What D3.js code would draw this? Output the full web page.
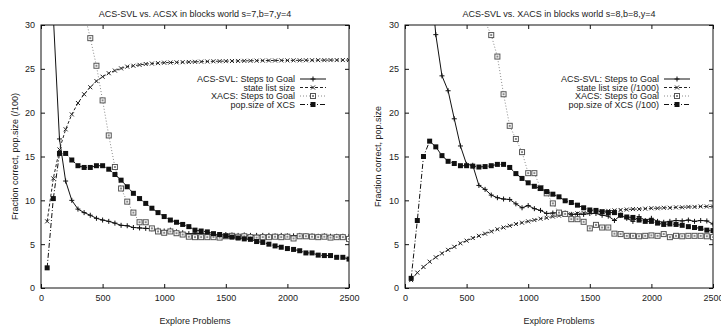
<!DOCTYPE html>
<html>
<head>
<meta charset="utf-8">
<script src="https://cdn.jsdelivr.net/npm/d3@7"></script>
<style>
  body { margin: 0; background: #fff; }
  svg text { font-family: "Liberation Sans", Arial, Helvetica, sans-serif; fill: #222; }
</style>
</head>
<body>
<div id="chart"></div>
<script>
// explore problems (x) shared by every series
var explore = [50, 100, 150, 200, 250, 300, 350, 400, 450, 500,
  550, 600, 650, 700, 750, 800, 850, 900, 950, 1000,
  1050, 1100, 1150, 1200, 1250, 1300, 1350, 1400, 1450, 1500,
  1550, 1600, 1650, 1700, 1750, 1800, 1850, 1900, 1950, 2000,
  2050, 2100, 2150, 2200, 2250, 2300, 2350, 2400, 2450, 2500];

var xTicks = [0, 500, 1000, 1500, 2000, 2500];
var yTicks = [0, 5, 10, 15, 20, 25, 30];

// left chart: s=7,b=7,y=4
var leftSteps = [null, 31.0, 17.0, 12.2, 10.0, 9.0, 8.6, 8.3, 7.95, 7.75,
  7.6, 7.4, 7.15, 7.1, 6.9, 6.85, 6.8, 6.75, 6.6, 6.5,
  6.6, 6.4, 6.3, 6.2, 6.25, 6.2, 6.15, 6.1, 6.05, 6.1,
  6.05, 6.0, 6.05, 6.0, 6.0, 6.0, 6.0, 5.95, 6.0, 5.95,
  5.95, 6.0, 5.95, 5.95, 5.9, 5.95, 5.9, 5.9, 5.9, 5.85];
var leftState = [7.6, 12.5, 15.8, 18.1, 19.8, 21.1, 22.1, 22.9, 23.6, 24.1,
  24.5, 24.8, 25.05, 25.25, 25.35, 25.45, 25.55, 25.6, 25.65, 25.7,
  25.72, 25.74, 25.76, 25.78, 25.8, 25.82, 25.84, 25.86, 25.87, 25.88,
  25.89, 25.9, 25.91, 25.92, 25.93, 25.94, 25.95, 25.95, 25.96, 25.96,
  25.97, 25.97, 25.98, 25.98, 25.99, 25.99, 26.0, 26.0, 26.0, 26.0];
var leftXacs = [null, null, null, null, null, null, 31.5, 28.5, 25.35, 21.4,
  17.4, 13.8, 11.35, 9.85, 8.6, 7.5, 7.5, 6.8, 6.45, 6.3,
  6.45, 6.25, 6.1, 5.85, 5.8, 5.8, 5.8, 5.8, 5.75, 5.9,
  5.95, 5.85, 5.9, 5.8, 5.75, 5.8, 5.8, 5.85, 5.8, 5.85,
  5.65, 5.9, 5.9, 5.85, 5.8, 5.85, 5.75, 5.8, 5.8, 5.6];
var leftPop = [2.3, 10.2, 15.35, 15.35, 14.6, 13.95, 13.75, 13.75, 13.95, 13.95,
  13.55, 12.95, 12.3, 11.55, 10.8, 10.2, 9.65, 9.1, 8.6, 8.15,
  7.75, 7.5, 7.25, 7.0, 6.6, 6.5, 6.4, 6.2, 6.1, 5.95,
  5.8, 5.7, 5.6, 5.55, 5.3, 5.2, 5.0, 4.8, 4.65, 4.5,
  4.4, 4.25, 4.0, 4.0, 3.75, 3.7, 3.7, 3.5, 3.5, 3.3];

// right chart: s=8,b=8,y=4
var rightSteps = [null, null, null, 36.8, 28.9, 24.2, 22.5, 19.3, 16.2, 14.1,
  14.0, 11.7, 11.25, 10.6, 10.3, 10.15, 10.1, 9.6, 9.15, 9.4,
  9.05, 8.85, 8.5, 8.55, 8.6, 8.55, 8.4, 8.4, 8.4, 8.5,
  8.5, 8.3, 8.2, 7.7, 8.3, 7.95, 7.6, 8.15, 7.7, 7.95,
  7.6, 7.5, 7.6, 7.7, 7.65, 7.75, 7.6, 7.7, 7.65, 7.3];
var rightState = [0.9, 1.75, 2.4, 3.0, 3.5, 3.95, 4.35, 4.7, 5.1, 5.4,
  5.7, 5.95, 6.2, 6.45, 6.7, 6.9, 7.1, 7.3, 7.45, 7.6,
  7.75, 7.9, 8.0, 8.15, 8.25, 8.35, 8.4, 8.5, 8.55, 8.6,
  8.7, 8.75, 8.8, 8.85, 8.9, 8.95, 9.0, 9.0, 9.05, 9.1,
  9.1, 9.15, 9.15, 9.2, 9.2, 9.25, 9.25, 9.3, 9.3, 9.3];
var rightXacs = [null, null, null, null, null, null, null, null, null, null,
  null, null, 30.4, 28.85, 26.4, 22.1, 18.5, 17.0, 15.5, 13.1,
  13.1, 11.4, 10.8, 9.65, 8.6, 8.45, 7.85, 7.85, 7.55, 6.8,
  7.2, 6.9, 6.9, 6.2, 6.15, 5.95, 5.95, 5.9, 5.95, 6.0,
  5.95, 6.15, 5.8, 5.95, 5.9, 5.95, 5.95, 5.95, 5.9, 5.8];
var rightPop = [1.1, 7.7, 15.0, 16.75, 16.1, 15.1, 14.45, 14.2, 13.95, 13.95,
  13.9, 13.8, 13.85, 13.95, 14.1, 14.1, 13.75, 13.05, 12.5, 12.0,
  11.6, 11.35, 11.0, 10.7, 10.4, 9.95, 9.75, 9.45, 9.15, 8.9,
  8.85, 8.7, 8.6, 8.6, 8.3, 8.1, 8.05, 7.75, 7.6, 7.6,
  7.4, 7.25, 7.3, 7.25, 7.15, 7.0, 6.9, 6.8, 6.6, 6.55];

var leftLegend = ["ACS-SVL: Steps to Goal", "state list size", "XACS: Steps to Goal", "pop.size of XCS"];
var rightLegend = ["ACS-SVL: Steps to Goal", "state list size (/1000)", "XACS: Steps to Goal", "pop.size of XCS (/100)"];

var width = 721, height = 327;
var plotTop = 25, plotBottom = 288;

// line style per series: solid/+, dashed/x, dotted grey/box, dash-dot/filled square
var styles = [
  { dash: null, color: "#111", mark: "plus" },
  { dash: "3,2", color: "#222", mark: "cross" },
  { dash: "1,2", color: "#8a8a8a", mark: "box" },
  { dash: "5,2,1,2", color: "#111", mark: "square" }
];

var panels = [
  { x0: 41, x1: 349, ylabX: 15, title: "ACS-SVL vs. ACSX in blocks world s=7,b=7,y=4",
    ylabel: "Fraction correct, pop.size (/100)", legend: leftLegend,
    series: [leftSteps, leftState, leftXacs, leftPop] },
  { x0: 405, x1: 713, ylabX: 378, title: "ACS-SVL vs. XACS in blocks world s=8,b=8,y=4",
    ylabel: "Fraction correct, pop.size", legend: rightLegend,
    series: [rightSteps, rightState, rightXacs, rightPop] }
];

var svg = d3.select("#chart").append("svg")
  .attr("width", width)
  .attr("height", height);

function drawMark(sel, kind) {
  if (kind == "plus") {
    sel.append("path").attr("d", "M-2.5,0h5M0,-2.5v5")
      .attr("stroke", "#111").attr("stroke-width", 1).attr("fill", "none");
  } else if (kind == "cross") {
    sel.append("path").attr("d", "M-2,-2L2,2M-2,2L2,-2")
      .attr("stroke", "#222").attr("stroke-width", 1).attr("fill", "none");
  } else if (kind == "box") {
    sel.append("rect").attr("x", -2.5).attr("y", -2.5).attr("width", 5).attr("height", 5)
      .attr("stroke", "#555").attr("stroke-width", 1).attr("fill", "#fff");
    sel.append("rect").attr("x", -1).attr("y", -1).attr("width", 2).attr("height", 2)
      .attr("fill", "#888");
  } else {
    sel.append("rect").attr("x", -2.5).attr("y", -2.5).attr("width", 5).attr("height", 5)
      .attr("fill", "#111");
  }
}

panels.forEach(function(p, pi) {
  var x = d3.scaleLinear().domain([0, 2500]).range([p.x0, p.x1]);
  var y = d3.scaleLinear().domain([0, 30]).range([plotBottom, plotTop]);

  var clipId = "clip" + pi;
  svg.append("clipPath").attr("id", clipId)
    .append("rect").attr("x", p.x0).attr("y", plotTop)
    .attr("width", p.x1 - p.x0).attr("height", plotBottom - plotTop);

  // axes, gnuplot style: ticks pointing inwards on all four sides
  var axes = svg.append("g");
  axes.append("g").attr("transform", "translate(0," + plotBottom + ")")
    .call(d3.axisBottom(x).tickValues(xTicks).tickSize(-4).tickPadding(6.5).tickFormat(d3.format("d")));
  axes.append("g").attr("transform", "translate(0," + plotTop + ")")
    .call(d3.axisTop(x).tickValues(xTicks).tickSize(-4).tickFormat(""));
  axes.append("g").attr("transform", "translate(" + p.x0 + ",0)")
    .call(d3.axisLeft(y).tickValues(yTicks).tickSize(-4).tickPadding(6).tickFormat(d3.format("d")));
  axes.append("g").attr("transform", "translate(" + p.x1 + ",0)")
    .call(d3.axisRight(y).tickValues(yTicks).tickSize(-4).tickFormat(""));
  axes.selectAll(".domain").remove();
  axes.selectAll(".tick line").attr("stroke", "#111");
  axes.selectAll(".tick text").attr("font-size", 9).attr("font-family", null);
  axes.selectAll("g").attr("font-family", null).attr("font-size", null);

  axes.append("rect")
    .attr("x", p.x0).attr("y", plotTop)
    .attr("width", p.x1 - p.x0).attr("height", plotBottom - plotTop)
    .attr("fill", "none").attr("stroke", "#111").attr("stroke-width", 1);

  // titles
  svg.append("text").attr("x", (p.x0 + p.x1) / 2).attr("y", 16.5)
    .attr("text-anchor", "middle").attr("font-size", 9).text(p.title);
  svg.append("text").attr("x", (p.x0 + p.x1) / 2).attr("y", 323.5)
    .attr("text-anchor", "middle").attr("font-size", 9).text("Explore Problems");
  svg.append("text")
    .attr("transform", "translate(" + (p.ylabX + 3) + "," + ((plotTop + plotBottom) / 2) + ") rotate(-90)")
    .attr("text-anchor", "middle").attr("font-size", 9).text(p.ylabel);

  var plot = svg.append("g").attr("clip-path", "url(#" + clipId + ")");

  p.series.forEach(function(vals, si) {
    var st = styles[si];
    var pts = explore.map(function(e, i) { return { x: e, y: vals[i] }; })
      .filter(function(d) { return d.y != null; });
    var line = d3.line().x(d => x(d.x)).y(d => y(d.y));
    plot.append("path").datum(pts)
      .attr("d", line)
      .attr("fill", "none")
      .attr("stroke", st.color)
      .attr("stroke-width", 1)
      .attr("stroke-dasharray", st.dash);
    plot.selectAll(null).data(pts.filter(d => d.y <= 30))
      .enter().append("g")
      .attr("transform", d => "translate(" + x(d.x) + "," + y(d.y) + ")")
      .each(function() { drawMark(d3.select(this), st.mark); });
  });

  // legend
  var lx = p.x1 - 54;
  p.legend.forEach(function(label, i) {
    var ly = 79 + i * 8.5;
    var st = styles[i];
    svg.append("text").attr("x", lx).attr("y", ly + 3)
      .attr("text-anchor", "end").attr("font-size", 9).text(label);
    svg.append("line")
      .attr("x1", p.x1 - 49).attr("x2", p.x1 - 23)
      .attr("y1", ly).attr("y2", ly)
      .attr("stroke", st.color).attr("stroke-width", 1)
      .attr("stroke-dasharray", st.dash);
    var m = svg.append("g").attr("transform", "translate(" + (p.x1 - 36) + "," + ly + ")");
    drawMark(m, st.mark);
  });
});
</script>
</body>
</html>
